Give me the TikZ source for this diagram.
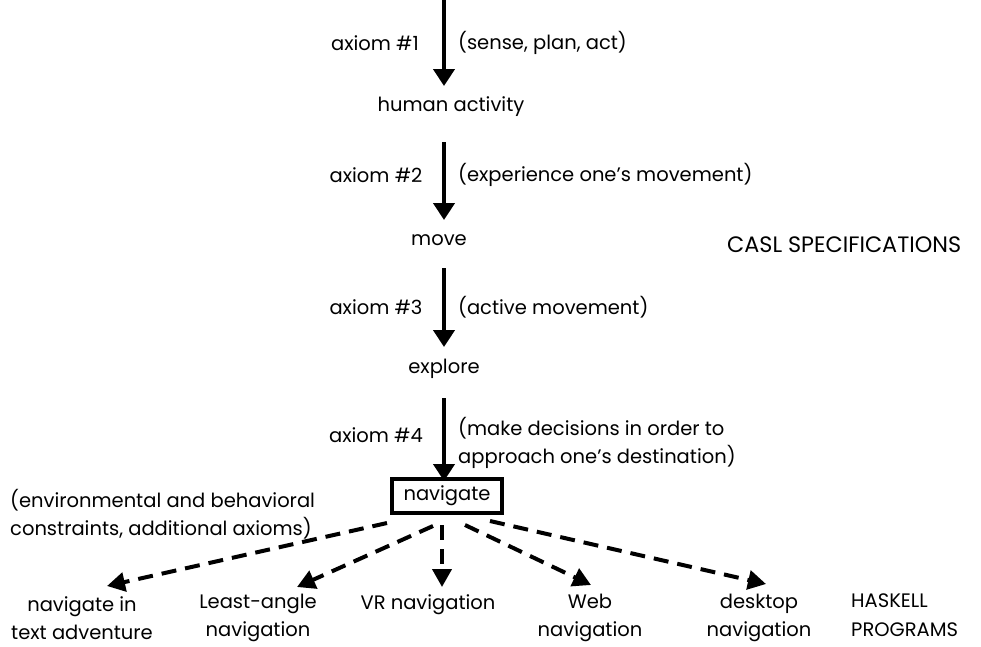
\documentclass[tikz,border=0pt]{standalone}
\usepackage{fontspec}
\setmainfont{Poppins}
\usetikzlibrary{arrows.meta}
\begin{document}
\begin{tikzpicture}[x=1pt,y=-1pt,
  lbl/.style={font=\fontsize{19.5}{28.5}\selectfont, inner sep=0pt},
  note/.style={lbl, anchor=west, align=left},
  concept/.style={lbl, align=center},
  axiomarrow/.style={line width=4.5pt, -{Triangle[length=17pt,width=21pt]}},
  derive/.style={line width=4pt, dash pattern=on 15pt off 9pt, -{Triangle[length=18pt,width=19pt]}},
  navbox/.style={lbl, draw, line width=3.2pt, minimum width=110pt, minimum height=34pt}]
\useasboundingbox (0,0) rectangle (981,646);

% specification chain
\node[concept] (human) at (451,107) {human activity};
\node[concept] (move) at (439,240) {move};
\node[concept] (explore) at (444,369) {explore};
\node[navbox] (nav) at (447,496) {navigate};

% axiom arrows: start and tip points
\coordinate (u1) at (444,0);   \coordinate (v1) at (444,86);
\coordinate (u2) at (444,142); \coordinate (v2) at (444,220);
\coordinate (u3) at (444,268); \coordinate (v3) at (444,347);
\coordinate (u4) at (444,398); \coordinate (v4) at (444,481);
\foreach \i in {1,...,4} \draw[axiomarrow] (u\i) -- (v\i);

\node[lbl] (a1) at (375,43) {axiom \#1};
\node[lbl] (a2) at (376,175) {axiom \#2};
\node[lbl] (a3) at (376,307) {axiom \#3};
\node[lbl] (a4) at (376,435) {axiom \#4};

\node[note] (r1) at (458,43) {(sense, plan, act)};
\node[note] (r2) at (458,175) {(experience one’s movement)};
\node[note] (r3) at (458,307) {(active movement)};
\node[note] (r4) at (458,443) {(make decisions in order to\\approach one’s destination)};

\node[note, font=\fontsize{22.3}{28}\selectfont] (casl) at (727,245) {CASL SPECIFICATIONS};

% programs
\node[note] (env) at (10,514) {(environmental and behavioral\\constraints, additional axioms)};

\node[concept] (p1) at (82,618) {navigate in\\text adventure};
\node[concept] (p2) at (258,618) {Least-angle\\navigation};
\node[concept, anchor=north] (p3) at (428,594) {VR navigation};
\node[concept] (p4) at (590,618) {Web\\navigation};
\node[concept] (p5) at (759,618) {desktop\\navigation};
\node[note] (hask) at (851,615) {HASKELL\\PROGRAMS};

% derivation connectors
\coordinate (s1) at (387,523);
\coordinate (s2) at (433,526);
\coordinate (s3) at (442,525);
\coordinate (s4) at (465,525);
\coordinate (s5) at (490,521);
\coordinate (t1) at (107,586);
\coordinate (t2) at (297,587);
\coordinate (t3) at (442,587);
\coordinate (t4) at (591,585);
\coordinate (t5) at (766,584);
\foreach \i in {1,...,5} \draw[derive] (s\i) -- (t\i);
\end{tikzpicture}
\end{document}
